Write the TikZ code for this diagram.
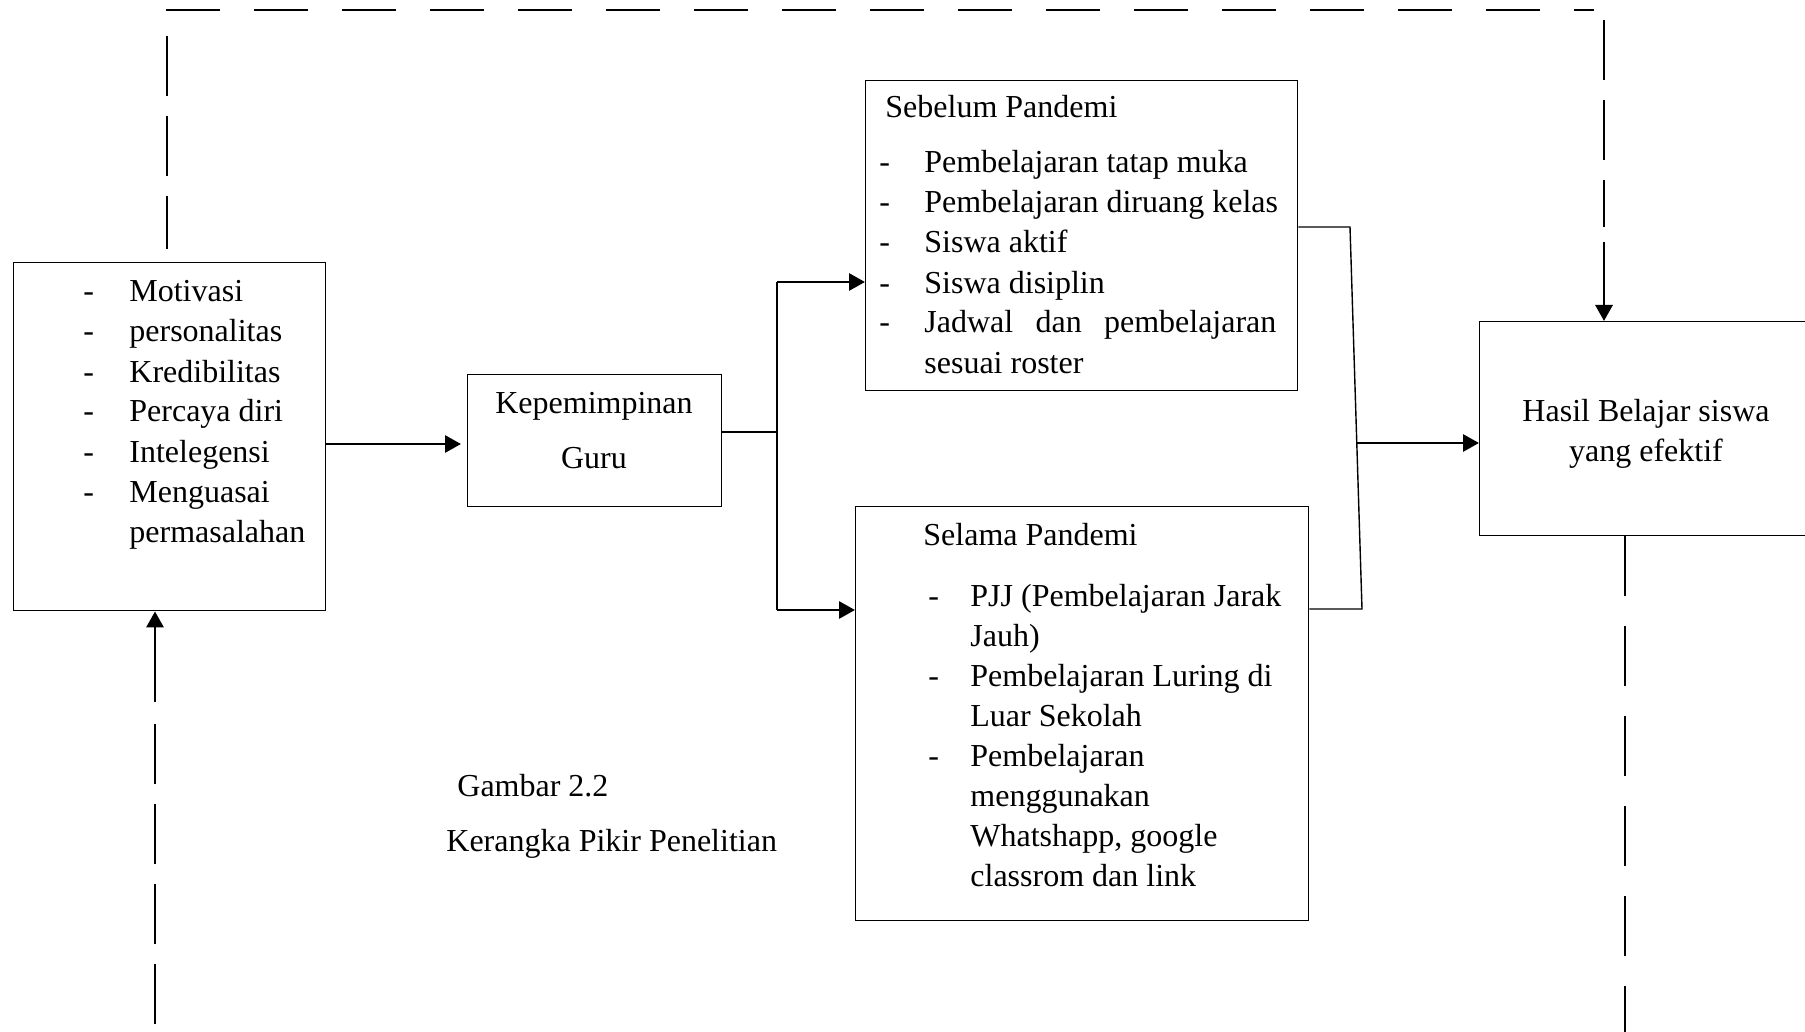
\documentclass[tikz,border=0pt]{standalone}
\usepackage{fontspec}
\setmainfont{Liberation Serif}
\usetikzlibrary{arrows.meta}
\begin{document}
\begin{tikzpicture}[x=0.5pt,y=-0.5pt,
  box/.style={draw, line width=0.7pt, rectangle, inner sep=0pt, anchor=north west},
  txt/.style={inner sep=0pt, anchor=base west, font=\fontsize{16}{20}\selectfont},
  ctxt/.style={inner sep=0pt, anchor=base, font=\fontsize{16}{20}\selectfont},
  conn/.style={line width=0.7pt},
  arr/.style={line width=1.45pt, -{Triangle[length=8pt,width=8.5pt]}},
  dash1/.style={line width=0.7pt, dash pattern=on 27pt off 17pt},
  dash2/.style={line width=0.7pt, dash pattern=on 30pt off 10pt},
  dash3/.style={line width=0.7pt, dash pattern=on 30pt off 15pt}]
\useasboundingbox (0,0) rectangle (1805,1032);

% boxes
\node[box, minimum width=156pt, minimum height=174pt] (lb) at (13,262) {};
\node[box, minimum width=127pt, minimum height=66pt] (kp) at (467,374) {};
\node[box, minimum width=216pt, minimum height=155pt] (sb) at (865,80) {};
\node[box, minimum width=226.5pt, minimum height=207pt] (sl) at (855,506) {};
\node[box, minimum width=167pt, minimum height=107pt] (hs) at (1479,321) {};

% left box text
\foreach \y/\t [count=\i] in {302/Motivasi,342/personalitas,382/Kredibilitas,422/Percaya diri,462/Intelegensi,502/Menguasai}{
  \node[txt] (ld\i) at (83,\y) {-};
  \node[txt] (lt\i) at (129,\y) {\t};
}
\node[txt] (lt7) at (129,542) {permasalahan};

% kepemimpinan
\node[ctxt] (kt1) at (594,413) {Kepemimpinan};
\node[ctxt] (kt2) at (594,468) {Guru};

% sebelum pandemi
\node[txt] (st0) at (885,118) {Sebelum Pandemi};
\foreach \y/\t [count=\i] in {173/Pembelajaran tatap muka,213/Pembelajaran diruang kelas,253/Siswa aktif,293/Siswa disiplin}{
  \node[txt] (sd\i) at (879,\y) {-};
  \node[txt] (st\i) at (924,\y) {\t};
}
\node[txt] (sd5) at (879,333) {-};
\node[txt] (st5) at (924,333) {\makebox[176pt][s]{Jadwal dan pembelajaran}};
\node[txt] (st6) at (924,373) {sesuai roster};

% selama pandemi
\node[txt] (pt0) at (923,545) {Selama Pandemi};
\node[txt] (pd1) at (928,606) {-};
\node[txt] (pt1) at (970,606) {PJJ (Pembelajaran Jarak};
\node[txt] (pt2) at (970,646) {Jauh)};
\node[txt] (pd3) at (928,686) {-};
\node[txt] (pt3) at (970,686) {Pembelajaran Luring di};
\node[txt] (pt4) at (970,726) {Luar Sekolah};
\node[txt] (pd5) at (928,766) {-};
\node[txt] (pt5) at (970,766) {Pembelajaran};
\node[txt] (pt6) at (970,806) {menggunakan};
\node[txt] (pt7) at (970,846) {Whatshapp, google};
\node[txt] (pt8) at (970,886) {classrom dan link};

% hasil
\node[ctxt] (ht1) at (1646,421) {Hasil Belajar siswa};
\node[ctxt] (ht2) at (1646,461) {yang efektif};

% caption
\node[txt] (cap1) at (457,796) {Gambar 2.2};
\node[txt] (cap2) at (446,851) {Kerangka Pikir Penelitian};

% connectors
\coordinate (la) at (400,444);
\draw[arr, shorten >=3pt] (lb.east |- la) -- (kp.west |- la);

\coordinate (ka) at (777,432);
\coordinate (kb) at (777,282);
\coordinate (kc) at (777,610);
\draw[conn] (kp.east |- ka) -- (ka);
\draw[conn] (kb) -- (kc);
\draw[arr] (kb) -- (sb.west |- kb);
\draw[arr] (kc) -- (sl.west |- kc);

\coordinate (ja) at (1350,227);
\coordinate (jb) at (1362,609);
\coordinate (jc) at (1357,443);
\draw[conn] (sb.east |- ja) -- (ja) -- (jb) -- (sl.east |- jb);
\draw[arr] (jc) -- (hs.west |- jc);

% dashed feedback frame
\coordinate (t1) at (166,10);
\coordinate (t2) at (1594,10);
\draw[dash1] (t1) -- (t2);
\coordinate (v1a) at (167,36);
\coordinate (v1b) at (167,249);
\draw[dash2] (v1a) -- (v1b);
\coordinate (v2a) at (1604,20);
\coordinate (v2b) at (1604,227);
\coordinate (v2c) at (1604,242);
\draw[dash2] (v2a) -- (v2b);
\draw[arr] (v2c) -- (v2c |- hs.north);
\coordinate (b1) at (155,702);
\coordinate (b2) at (155,724);
\coordinate (b3) at (155,1032);
\draw[arr] (b1) -- (b1 |- lb.south);
\draw[dash2] (b2) -- (b3);
\coordinate (r1) at (1625,1032);
\draw[dash3] (r1 |- hs.south) -- (r1);
\end{tikzpicture}
\end{document}
